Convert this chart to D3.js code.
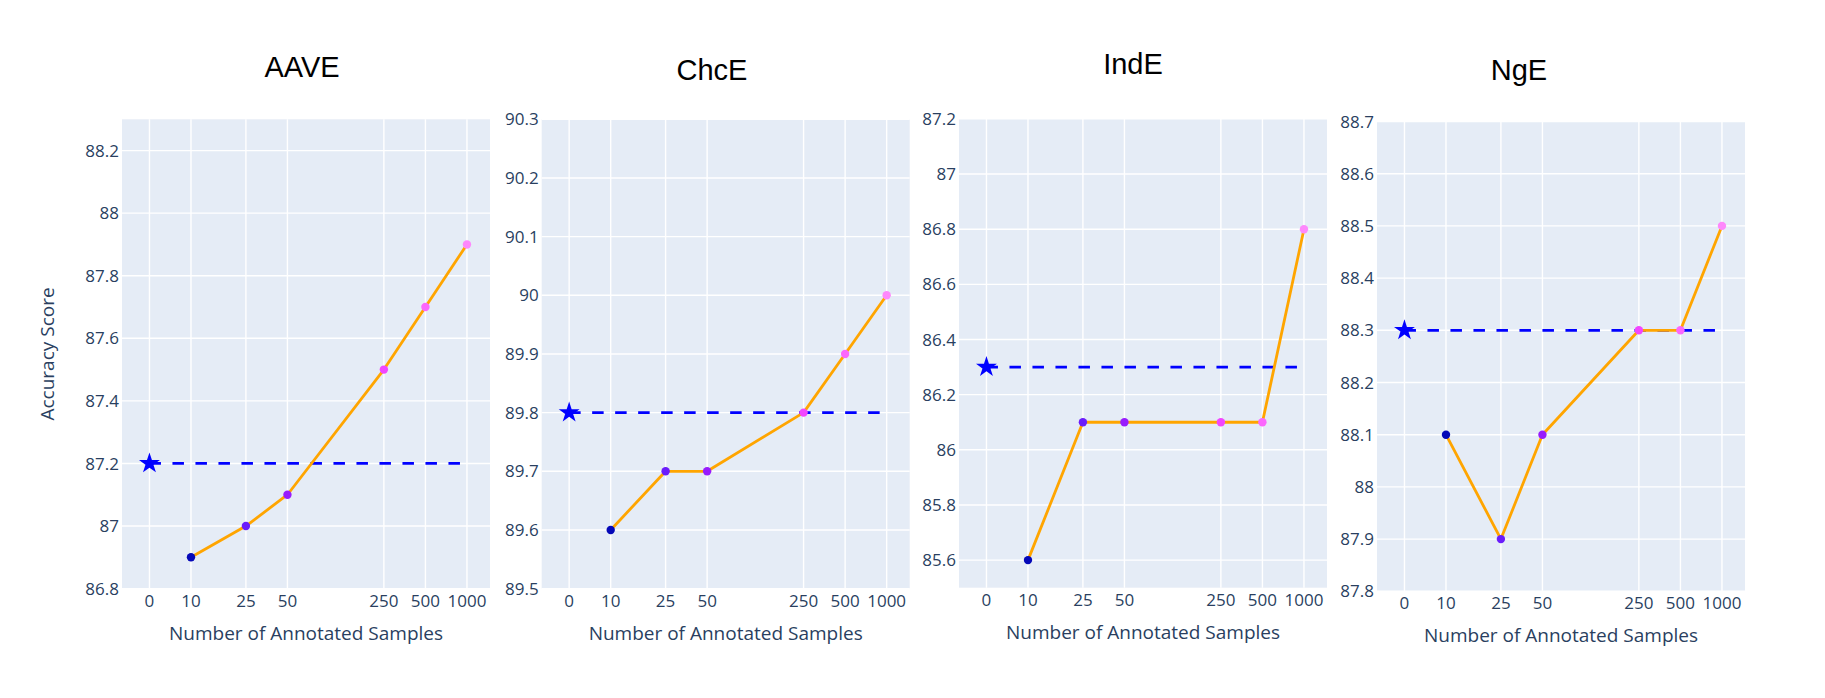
<!DOCTYPE html>
<html>
<head>
<meta charset="utf-8">
<script src="https://cdn.jsdelivr.net/npm/d3@7/dist/d3.min.js"></script>
<style>
  html, body { margin: 0; padding: 0; background: #ffffff; }
  svg { display: block; }
</style>
</head>
<body>
<svg id="chart" width="1825" height="698"></svg>
<script>
// ---------------- data ----------------
const panelNames = ["AAVE", "ChcE", "IndE", "NgE"];
const sampleLabels = ["0", "10", "25", "50", "250", "500", "1000"];
const sampleCounts = [10, 25, 50, 250, 500, 1000];
const zeroPosition = 5; // where the "0" sample tick sits on the log axis
const aaveScores = [86.9, 87.0, 87.1, 87.5, 87.7, 87.9];
const chceScores = [89.6, 89.7, 89.7, 89.8, 89.9, 90.0];
const indeScores = [85.6, 86.1, 86.1, 86.1, 86.1, 86.8];
const ngeScores  = [88.1, 87.9, 88.1, 88.3, 88.3, 88.5];
const baselineScores = [87.2, 89.8, 86.3, 88.3];
const yDomains = [[86.8, 88.3], [89.5, 90.3], [85.5, 87.2], [87.8, 88.7]];
const aaveTicks = [86.8, 87.0, 87.2, 87.4, 87.6, 87.8, 88.0, 88.2];
const chceTicks = [89.5, 89.6, 89.7, 89.8, 89.9, 90.0, 90.1, 90.2, 90.3];
const indeTicks = [85.6, 85.8, 86.0, 86.2, 86.4, 86.6, 86.8, 87.0, 87.2];
const ngeTicks  = [87.8, 87.9, 88.0, 88.1, 88.2, 88.3, 88.4, 88.5, 88.6, 88.7];
const markerColors = ["#0508b8", "#6b1cfb", "#981cfd", "#f246fe", "#fc67fd", "#fe88fc"];
const xAxisTitle = "Number of Annotated Samples";
const yAxisTitle = "Accuracy Score";

const allScores = [aaveScores, chceScores, indeScores, ngeScores];
const allTicks = [aaveTicks, chceTicks, indeTicks, ngeTicks];

// ---------------- layout ----------------
const layout = [
  { left: 122,   top: 119.3, bottom: 588.6, titleX: 302,  titleY: 76.6 },
  { left: 541.7, top: 119.3, bottom: 588.6, titleX: 712,  titleY: 80 },
  { left: 959,   top: 118.9, bottom: 587.7, titleX: 1133, titleY: 74.4 },
  { left: 1377,  top: 121.5, bottom: 591.3, titleX: 1519, titleY: 80 }
];
const plotW = 368;
const textColor = "#2a3f5f";
const tickFont = "'Open Sans', 'DejaVu Sans', sans-serif";

const svg = d3.select("#chart");

function fmt(v) { return String(parseFloat(v.toFixed(1))); }

function starPath(r) {
  const rs = r, x1 = rs * 0.225, x2 = rs * 0.951, x3 = rs * 0.363, x4 = rs * 0.588,
        y1 = -rs, y2 = rs * -0.309, y3 = rs * 0.118, y4 = rs * 0.382, y5 = rs * 0.809;
  return `M${x1},${y2}H${x2}L${x3},${y3}L${x4},${y5}L0,${y4}L${-x4},${y5}L${-x3},${y3}L${-x2},${y2}H${-x1}L0,${y1}Z`;
}

panelNames.forEach((name, i) => {
  const L = layout[i];
  const x = d3.scaleLog().domain([Math.pow(10, 0.5), Math.pow(10, 3.167)]).range([L.left, L.left + plotW]);
  const y = d3.scaleLinear().domain(yDomains[i]).range([L.bottom, L.top]);
  const g = svg.append("g");
  const tickPositions = [zeroPosition].concat(sampleCounts);

  // background
  g.append("rect")
    .attr("x", L.left).attr("y", L.top)
    .attr("width", plotW).attr("height", L.bottom - L.top)
    .attr("fill", "#E5ECF6");

  // horizontal gridlines
  g.selectAll(".hg").data(allTicks[i]).enter().append("line")
    .attr("x1", L.left).attr("x2", L.left + plotW)
    .attr("y1", d => y(d)).attr("y2", d => y(d))
    .attr("stroke", "#ffffff").attr("stroke-width", 1.4);

  // vertical gridlines
  g.selectAll(".vg").data(tickPositions).enter().append("line")
    .attr("x1", d => x(d)).attr("x2", d => x(d))
    .attr("y1", L.top).attr("y2", L.bottom)
    .attr("stroke", "#ffffff").attr("stroke-width", 1.4);

  // y tick labels
  g.selectAll(".yt").data(allTicks[i]).enter().append("text")
    .attr("x", L.left - 3).attr("y", d => y(d)).attr("dy", "0.36em")
    .attr("text-anchor", "end")
    .attr("font-family", tickFont).attr("font-size", 17)
    .attr("fill", textColor)
    .text(d => fmt(d));

  // x tick labels
  g.selectAll(".xt").data(tickPositions).enter().append("text")
    .attr("x", d => x(d)).attr("y", L.bottom + 18)
    .attr("text-anchor", "middle")
    .attr("font-family", tickFont).attr("font-size", 17)
    .attr("fill", textColor)
    .text((d, j) => sampleLabels[j]);

  // x axis title
  g.append("text")
    .attr("x", L.left + plotW / 2).attr("y", L.bottom + 51)
    .attr("text-anchor", "middle")
    .attr("font-family", tickFont).attr("font-size", 19)
    .attr("fill", textColor)
    .text(xAxisTitle);

  // panel title
  g.append("text")
    .attr("x", L.titleX).attr("y", L.titleY)
    .attr("text-anchor", "middle")
    .attr("font-family", "'Liberation Sans', Arial, sans-serif").attr("font-size", 29)
    .attr("fill", "#000000")
    .text(name);

  // baseline dashed line
  g.append("line")
    .attr("x1", x(zeroPosition)).attr("x2", x(sampleCounts[sampleCounts.length - 1]))
    .attr("y1", y(baselineScores[i])).attr("y2", y(baselineScores[i]))
    .attr("stroke", "#0000ff").attr("stroke-width", 2.8)
    .attr("stroke-dasharray", "11.5,11.5");

  // baseline star
  g.append("path")
    .attr("d", starPath(11))
    .attr("transform", `translate(${x(zeroPosition)},${y(baselineScores[i])})`)
    .attr("fill", "#0000ff");

  // score line
  const pts = sampleCounts.map((c, j) => ({ c: c, v: allScores[i][j], col: markerColors[j] }));
  g.append("path")
    .datum(pts)
    .attr("d", d3.line().x(d => x(d.c)).y(d => y(d.v)))
    .attr("fill", "none").attr("stroke", "#FFA500").attr("stroke-width", 2.8)
    .attr("stroke-linejoin", "round");

  g.selectAll(".pt").data(pts).enter().append("circle")
    .attr("cx", d => x(d.c)).attr("cy", d => y(d.v)).attr("r", 4.2)
    .attr("fill", d => d.col);

  // y axis title on first panel only
  if (i === 0) {
    const cy = (L.top + L.bottom) / 2;
    g.append("text")
      .attr("transform", `translate(54,${cy}) rotate(-90)`)
      .attr("text-anchor", "middle")
      .attr("font-family", tickFont).attr("font-size", 19)
      .attr("fill", textColor)
      .text(yAxisTitle);
  }
});
</script>
</body>
</html>
